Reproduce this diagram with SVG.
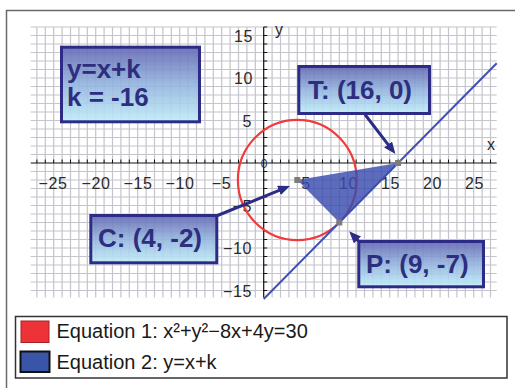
<svg xmlns="http://www.w3.org/2000/svg" width="515" height="388" viewBox="0 0 515 388">
<style>
.grid{fill:none;stroke:#c4c4cc;stroke-width:1.2}
.axis{fill:none;stroke:#111;stroke-width:1.2}
.tick{fill:none;stroke:#111;stroke-width:1}
.al{font-family:"Liberation Sans",Arial,sans-serif;font-size:16px;letter-spacing:0.6px;fill:#2a2a2a}
.box{fill:url(#boxgrad);fill-opacity:0.9;stroke:#2c2c86;stroke-width:3}
.bt{font-family:"Liberation Sans",Arial,sans-serif;font-size:26px;font-weight:bold;fill:#2e2e7e}
.conn{fill:none;stroke:#2c2c86;stroke-width:3}
.pt{fill:#7c7c7c}
.lg{font-family:"Liberation Sans",Arial,sans-serif;font-size:20px;fill:#1a1a1a}
</style>
<defs>
<linearGradient id="boxgrad" x1="0" y1="0" x2="0" y2="1">
<stop offset="0" stop-color="#6266b2"/>
<stop offset="0.5" stop-color="#93b4de"/>
<stop offset="1" stop-color="#bfecf8"/>
</linearGradient>
<marker id="arr" viewBox="0 0 12 10" refX="1" refY="5" markerWidth="12" markerHeight="10" markerUnits="userSpaceOnUse" orient="auto">
<path d="M0,0 L12,5 L0,10 z" fill="#2c2c86"/>
</marker>
</defs>
<rect width="515" height="388" fill="#fff"/>
<path d="M6.5 388V10.5H515" fill="none" stroke="#6a6a6a" stroke-width="1.5"/>
<g id="grid">
<path class="grid" d="M36.9 27v270.5M45.3 27v270.5M53.7 27v270.5M62.1 27v270.5M70.5 27v270.5M78.9 27v270.5M87.3 27v270.5M95.7 27v270.5M104.1 27v270.5M112.5 27v270.5M120.9 27v270.5M129.3 27v270.5M137.7 27v270.5M146.1 27v270.5M154.5 27v270.5M162.9 27v270.5M171.3 27v270.5M179.7 27v270.5M188.1 27v270.5M196.5 27v270.5M204.9 27v270.5M213.3 27v270.5M221.7 27v270.5M230.1 27v270.5M238.5 27v270.5M246.9 27v270.5M255.3 27v270.5M272.1 27v270.5M280.5 27v270.5M288.9 27v270.5M297.3 27v270.5M305.7 27v270.5M314.1 27v270.5M322.5 27v270.5M330.9 27v270.5M339.3 27v270.5M347.7 27v270.5M356.1 27v270.5M364.5 27v270.5M372.9 27v270.5M381.3 27v270.5M389.7 27v270.5M398.1 27v270.5M406.5 27v270.5M414.9 27v270.5M423.3 27v270.5M431.7 27v270.5M440.1 27v270.5M448.5 27v270.5M456.9 27v270.5M465.3 27v270.5M473.7 27v270.5M482.1 27v270.5M490.5 27v270.5M30.7 27h466M30.7 35.5h466M30.7 44h466M30.7 52.5h466M30.7 61h466M30.7 69.5h466M30.7 78h466M30.7 86.5h466M30.7 95h466M30.7 103.5h466M30.7 112h466M30.7 120.5h466M30.7 129h466M30.7 137.5h466M30.7 146h466M30.7 154.5h466M30.7 171.5h466M30.7 180h466M30.7 188.5h466M30.7 197h466M30.7 205.5h466M30.7 214h466M30.7 222.5h466M30.7 231h466M30.7 239.5h466M30.7 248h466M30.7 256.5h466M30.7 265h466M30.7 273.5h466M30.7 282h466M30.7 290.5h466"/>
</g>
<g id="axes">
<path class="axis" d="M30.7 163h466M263.7 27v270.5"/>
<path class="tick" d="M36.9 159.5v3.5M45.3 159.5v3.5M53.7 159.5v3.5M62.1 159.5v3.5M70.5 159.5v3.5M78.9 159.5v3.5M87.3 159.5v3.5M95.7 159.5v3.5M104.1 159.5v3.5M112.5 159.5v3.5M120.9 159.5v3.5M129.3 159.5v3.5M137.7 159.5v3.5M146.1 159.5v3.5M154.5 159.5v3.5M162.9 159.5v3.5M171.3 159.5v3.5M179.7 159.5v3.5M188.1 159.5v3.5M196.5 159.5v3.5M204.9 159.5v3.5M213.3 159.5v3.5M221.7 159.5v3.5M230.1 159.5v3.5M238.5 159.5v3.5M246.9 159.5v3.5M255.3 159.5v3.5M272.1 159.5v3.5M280.5 159.5v3.5M288.9 159.5v3.5M297.3 159.5v3.5M305.7 159.5v3.5M314.1 159.5v3.5M322.5 159.5v3.5M330.9 159.5v3.5M339.3 159.5v3.5M347.7 159.5v3.5M356.1 159.5v3.5M364.5 159.5v3.5M372.9 159.5v3.5M381.3 159.5v3.5M389.7 159.5v3.5M398.1 159.5v3.5M406.5 159.5v3.5M414.9 159.5v3.5M423.3 159.5v3.5M431.7 159.5v3.5M440.1 159.5v3.5M448.5 159.5v3.5M456.9 159.5v3.5M465.3 159.5v3.5M473.7 159.5v3.5M482.1 159.5v3.5M490.5 159.5v3.5M263.7 27h3.5M263.7 35.5h3.5M263.7 44h3.5M263.7 52.5h3.5M263.7 61h3.5M263.7 69.5h3.5M263.7 78h3.5M263.7 86.5h3.5M263.7 95h3.5M263.7 103.5h3.5M263.7 112h3.5M263.7 120.5h3.5M263.7 129h3.5M263.7 137.5h3.5M263.7 146h3.5M263.7 154.5h3.5M263.7 171.5h3.5M263.7 180h3.5M263.7 188.5h3.5M263.7 197h3.5M263.7 205.5h3.5M263.7 214h3.5M263.7 222.5h3.5M263.7 231h3.5M263.7 239.5h3.5M263.7 248h3.5M263.7 256.5h3.5M263.7 265h3.5M263.7 273.5h3.5M263.7 282h3.5M263.7 290.5h3.5"/>
<g class="al" text-anchor="middle">
<text x="53" y="188.5">−25</text>
<text x="96" y="188.5">−20</text>
<text x="138" y="188.5">−15</text>
<text x="180" y="188.5">−10</text>
<text x="221.5" y="188.5">−5</text>
<text x="306" y="188.5">5</text>
<text x="348.5" y="188.5">10</text>
<text x="390.5" y="188.5">15</text>
<text x="432.5" y="188.5">20</text>
<text x="474.5" y="188.5">25</text>
</g>
<g class="al" text-anchor="end">
<text x="253" y="41.5">15</text>
<text x="253" y="84">10</text>
<text x="252" y="126.5">5</text>
<text x="252" y="211.5">−5</text>
<text x="252" y="254">−10</text>
<text x="252" y="296.5">−15</text>
</g>
<text class="al" x="264" y="167.5" text-anchor="middle" style="font-size:12px;letter-spacing:0">0</text>
<text class="al" x="487" y="150">x</text>
<text class="al" x="275" y="35">y</text>
</g>
<g id="curves">
<ellipse cx="297.3" cy="180" rx="59.4" ry="60.1" fill="none" stroke="#f03a3c" stroke-width="2.2"/>
<path d="M263.7 299L496.7 63.3" fill="none" stroke="#3f4fb3" stroke-width="2"/>
<polygon points="297.3,180 398.1,163 339.3,222.5" fill="#3b4cae" fill-opacity="0.82"/>
</g>
<g id="points">
<rect class="pt" x="294.3" y="177" width="6" height="6"/>
<rect class="pt" x="395.1" y="160" width="6" height="6"/>
<rect class="pt" x="336.3" y="219.5" width="6" height="6"/>
</g>
<g id="node-info">
<rect class="box" x="61.5" y="47.2" width="138" height="74.6"/>
<text class="bt" x="67" y="78.3">y=x+k</text>
<text class="bt" x="67" y="106">k = -16</text>
</g>
<g id="node-T">
<rect class="box" x="298.8" y="66.5" width="130.7" height="47"/>
<text class="bt" x="308" y="99">T: (16, 0)</text>
</g>
<g id="node-C">
<rect class="box" x="90.8" y="215.5" width="126" height="47.3"/>
<text class="bt" x="98" y="247.3">C: (4, -2)</text>
</g>
<g id="node-P">
<rect class="box" x="358.8" y="241.5" width="124.7" height="45.3"/>
<text class="bt" x="366" y="273.3">P: (9, -7)</text>
</g>
<g id="connectors">
<path class="conn" d="M365 114.5L388.7 145.3" marker-end="url(#arr)"/>
<path class="conn" d="M217.5 215.5L279.8 190.1" marker-end="url(#arr)"/>
<path class="conn" d="M359.5 242L356.8 239.2" marker-end="url(#arr)"/>
</g>
<g id="legend">
<rect x="15.5" y="316.5" width="491.5" height="61.5" fill="#fff" stroke="#333" stroke-width="1.5"/>
<rect x="21" y="321" width="28" height="21.5" fill="#ee3338" stroke="#a02428" stroke-width="1"/>
<rect x="20.5" y="351.5" width="29" height="20.5" fill="#3a55a8" stroke="#111" stroke-width="2"/>
<text class="lg" x="56.5" y="338.3">Equation 1: x²+y²−8x+4y=30</text>
<text class="lg" x="56.5" y="369.3">Equation 2: y=x+k</text>
</g>
</svg>
